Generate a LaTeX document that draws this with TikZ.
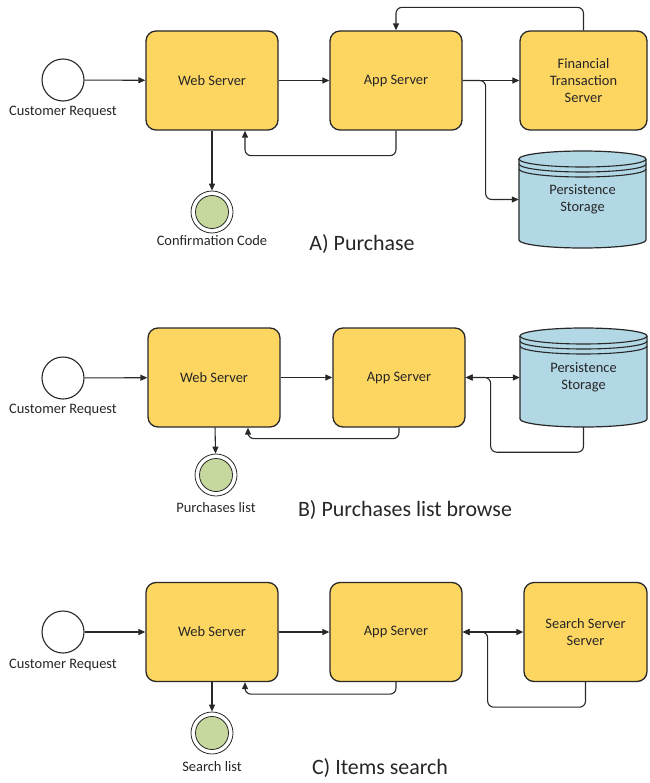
\documentclass[tikz,border=0pt]{standalone}
\usepackage{fontspec}
\setmainfont{Carlito}
\usetikzlibrary{arrows.meta}
\definecolor{boxfill}{RGB}{253,214,98}
\definecolor{cylfill}{RGB}{178,216,230}
\definecolor{endfill}{RGB}{198,216,158}
\definecolor{linec}{RGB}{40,40,40}
\definecolor{textc}{RGB}{38,38,38}
\newcommand{\dbcyl}[4]{%
  \pgfmathsetmacro{\rxx}{(#2-#1)/2}%
  \pgfmathsetmacro{\yta}{#3+8}%
  \pgfmathsetmacro{\ytb}{#4-8}%
  \filldraw[fill=cylfill, draw=linec, line width=1.2bp] (#1,\yta) -- (#1,\ytb) arc[start angle=180,end angle=360,x radius=\rxx bp,y radius=8bp] -- (#2,\yta) arc[start angle=0,end angle=180,x radius=\rxx bp,y radius=8bp] -- cycle;
  \draw[linec, line width=1.1bp] (#1,\yta) arc[start angle=180,end angle=360,x radius=\rxx bp,y radius=8bp];
  \draw[linec, line width=1.1bp] (#1,\yta+5) arc[start angle=180,end angle=360,x radius=\rxx bp,y radius=8bp];
  \draw[linec, line width=1.1bp] (#1,\yta+10) arc[start angle=180,end angle=360,x radius=\rxx bp,y radius=8bp];
}
\begin{document}
\begin{tikzpicture}[x=1bp,y=-1bp,
  box/.style={draw=linec, fill=boxfill, line width=1.3bp, rounded corners=10bp,
    minimum height=99bp, align=center, font=\fontsize{14.5}{17}\selectfont, text=textc, inner sep=0pt},
  cylnode/.style={draw=none, minimum height=99bp, align=center, font=\fontsize{14.5}{17}\selectfont, text=textc, inner sep=0pt},
  startev/.style={circle, draw=linec, fill=white, line width=1.1bp, minimum size=42bp, inner sep=0pt},
  endev/.style={circle, draw=linec, fill=white, line width=0.8bp, minimum size=42bp, inner sep=0pt},
  endin/.style={circle, draw=linec, fill=endfill, line width=0.8bp, minimum size=33bp, inner sep=0pt},
  lab/.style={font=\fontsize{14.5}{16}\selectfont, text=textc, inner sep=0pt},
  capt/.style={font=\fontsize{22}{24}\selectfont, text=textc, inner sep=0pt},
  arr/.style={-{Triangle[length=7bp,width=6bp]}, line width=1.1bp, draw=linec, rounded corners=6bp},
  arrtwo/.style={{Triangle[length=7bp,width=6bp]}-{Triangle[length=7bp,width=6bp]}, line width=1.1bp, draw=linec}
]
\useasboundingbox (0,0) rectangle (650,783);

% ---------------- A) Purchase ----------------
\node[startev] (startA) at (63,80) {};
\node[lab] (labA) at (63,112) {Customer Request};
\node[box, minimum width=132bp] (webA) at (212,80.5) {Web Server};
\node[box, minimum width=132bp] (appA) at (396,80.5) {App Server};
\node[box, minimum width=127bp] (finA) at (583.5,80.5) {Financial\\Transaction\\Server};
\dbcyl{519}{646}{151}{248}
\node[cylnode, minimum width=127bp, minimum height=97bp] (psA) at (582.5,199.5) {Persistence\\Storage};
\node[endev] (endA) at (212,212) {};
\node[endin] (endAi) at (endA) {};
\node[lab] (ccA) at (212,241) {Confirmation Code};
\node[capt] (captA) at (362,244) {A) Purchase};

\draw[arr] (startA) -- (webA);
\draw[arr] (webA) -- (appA);
\draw[arr] (appA.east) -- (finA.west);
\draw[arr] (appA.east) -- ++(23,0) |- (psA.west);
\draw[arr] (finA.north) -- ++(0,-23) -| (appA.north);
\draw[arr] (appA.south) -- ++(0,25) -| ([xshift=33bp]webA.south);
\draw[arr] (webA) -- (endA);

% ---------------- B) Purchases list browse ----------------
\node[startev] (startB) at (63,378) {};
\node[lab] (labB) at (63,410) {Customer Request};
\node[box, minimum width=132bp] (webB) at (214,377.5) {Web Server};
\node[box, minimum width=132bp] (appB) at (399,377.5) {App Server};
\dbcyl{520}{647}{328}{427}
\node[cylnode, minimum width=127bp] (psB) at (583.5,377.5) {Persistence\\Storage};
\node[endev] (endB) at (216,475) {};
\node[endin] (endBi) at (endB) {};
\node[lab] (plB) at (216,508) {Purchases list};
\node[capt] (captB) at (405,510) {B) Purchases list browse};

\draw[arr] (startB) -- (webB);
\draw[arr] (webB) -- (appB);
\draw[arrtwo] (appB.east) -- (psB.west);
\draw[arr] (psB.south) -- ++(0,25) -| ([xshift=25bp]appB.east) -- (appB.east);
\draw[arr] (appB.south) -- ++(0,11) -| ([xshift=34bp]webB.south);
\draw[arr] (webB) -- (endB);

% ---------------- C) Items search ----------------
\node[startev] (startC) at (63,632) {};
\node[lab] (labC) at (63,665) {Customer Request};
\node[box, minimum width=132bp] (webC) at (212,632) {Web Server};
\node[box, minimum width=132bp] (appC) at (396,632) {App Server};
\node[box, minimum width=123bp] (srchC) at (585.5,632) {Search Server\\Server};
\node[endev] (endC) at (212,733) {};
\node[endin] (endCi) at (endC) {};
\node[lab] (slC) at (212,767) {Search list};
\node[capt] (captC) at (380,768) {C) Items search};

\draw[arr] (startC) -- (webC);
\draw[arr] (webC) -- (appC);
\draw[arrtwo] (appC.east) -- (srchC.west);
\draw[arr] (srchC.south) -- ++(0,25) -| ([xshift=25bp]appC.east) -- (appC.east);
\draw[arr] (appC.south) -- ++(0,12) -| ([xshift=33bp]webC.south);
\draw[arr] (webC) -- (endC);
\end{tikzpicture}
\end{document}
